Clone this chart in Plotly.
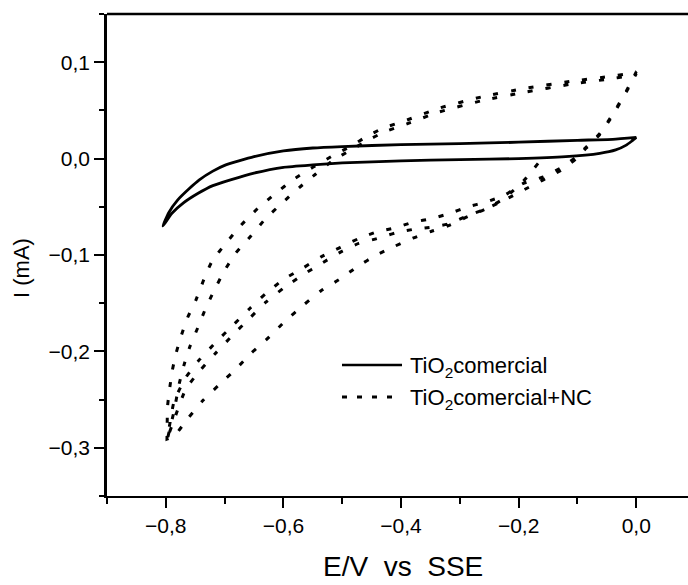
import plotly.graph_objects as go

# ---- TiO2 comercial: one cyclic voltammogram (forward and reverse sweeps) ----
solid_fwd_E = [-0.805, -0.795, -0.780, -0.760, -0.743, -0.720, -0.700, -0.650, -0.600,
               -0.550, -0.500, -0.400, -0.300, -0.200, -0.100, -0.040, 0.000]
solid_fwd_I = [-0.070, -0.056, -0.043, -0.031, -0.022, -0.013, -0.007, 0.002, 0.008,
               0.011, 0.0125, 0.0145, 0.0155, 0.017, 0.019, 0.020, 0.022]
solid_rev_E = [0.000, -0.008, -0.017, -0.035, -0.062, -0.120, -0.200, -0.300, -0.400,
               -0.500, -0.550, -0.600, -0.650, -0.690, -0.720, -0.745, -0.770, -0.790, -0.805]
solid_rev_I = [0.022, 0.018, 0.014, 0.009, 0.0055, 0.002, 0.000, -0.001, -0.0023,
               -0.0045, -0.0065, -0.009, -0.015, -0.022, -0.028, -0.036, -0.046, -0.057, -0.070]

# ---- TiO2 comercial+NC: consecutive sweeps ----
nc_scan1_E = [-0.167, -0.190, -0.224, -0.255, -0.286, -0.317, -0.349, -0.380, -0.411, -0.442,
              -0.474, -0.504, -0.536, -0.566, -0.596, -0.624, -0.655, -0.682, -0.710, -0.737,
              -0.763, -0.786, -0.798]
nc_scan1_I = [-0.005, -0.022, -0.041, -0.052, -0.060, -0.069, -0.0756, -0.0826, -0.091, -0.100,
              -0.112, -0.125, -0.137, -0.152, -0.168, -0.185, -0.202, -0.219, -0.235, -0.251,
              -0.270, -0.288, -0.291]
nc_scan2_E = [-0.798, -0.797, -0.794, -0.789, -0.783, -0.775, -0.763, -0.749, -0.735, -0.721,
              -0.698, -0.672, -0.644, -0.613, -0.584, -0.550, -0.516, -0.485, -0.459, -0.431,
              -0.390, -0.337, -0.263, -0.188, -0.113, -0.053, -0.008, 0.000]
nc_scan2_I = [-0.291, -0.257, -0.241, -0.220, -0.203, -0.186, -0.165, -0.147, -0.125, -0.106,
              -0.088, -0.069, -0.052, -0.036, -0.022, -0.009, 0.003, 0.013, 0.0227, 0.0315,
              0.040, 0.052, 0.064, 0.073, 0.080, 0.0846, 0.0887, 0.090]
nc_scan3_E = [0.000, -0.017, -0.039, -0.062, -0.085, -0.102, -0.125, -0.158, -0.193, -0.224,
              -0.255, -0.286, -0.318, -0.346, -0.380, -0.409, -0.441, -0.472, -0.503, -0.536,
              -0.568, -0.599, -0.630, -0.658, -0.686, -0.714, -0.742, -0.766, -0.786, -0.797]
nc_scan3_I = [0.090, 0.070, 0.047, 0.026, 0.012, 0.002, -0.0085, -0.019, -0.026, -0.038,
              -0.045, -0.050, -0.057, -0.062, -0.066, -0.0717, -0.076, -0.083, -0.092, -0.102,
              -0.114, -0.125, -0.140, -0.156, -0.173, -0.190, -0.208, -0.227, -0.252, -0.290]
nc_scan4_E = [-0.797, -0.786, -0.777, -0.769, -0.759, -0.746, -0.732, -0.718, -0.700, -0.681,
              -0.655, -0.630, -0.602, -0.573, -0.545, -0.516, -0.485, -0.459, -0.431, -0.390,
              -0.337, -0.263, -0.188, -0.113, -0.053, -0.010, 0.000]
nc_scan4_I = [-0.290, -0.262, -0.233, -0.214, -0.195, -0.176, -0.155, -0.137, -0.116, -0.098,
              -0.080, -0.062, -0.046, -0.030, -0.016, -0.002, 0.009, 0.018, 0.027, 0.036,
              0.048, 0.060, 0.069, 0.077, 0.082, 0.086, 0.088]
nc_scan5_E = [0.000, -0.017, -0.039, -0.062, -0.085, -0.102, -0.125, -0.158, -0.193, -0.224,
              -0.255, -0.286, -0.318, -0.346, -0.380, -0.409, -0.441, -0.472, -0.503, -0.536,
              -0.568, -0.599, -0.630, -0.658, -0.686, -0.714, -0.742, -0.766, -0.786, -0.798]
nc_scan5_I = [0.088, 0.069, 0.046, 0.025, 0.011, 0.000, -0.011, -0.022, -0.033, -0.043,
              -0.052, -0.059, -0.0675, -0.071, -0.0735, -0.077, -0.083, -0.088, -0.097, -0.109,
              -0.121, -0.134, -0.149, -0.166, -0.183, -0.201, -0.220, -0.239, -0.271, -0.291]

series_names = ["TiO<sub>2</sub>comercial", "TiO<sub>2</sub>comercial+NC"]
x_title = "E/V  vs  SSE"
y_title = "I (mA)"

FONT = "Liberation Sans, Arial, sans-serif"
W, H = 688, 585
ML, MR, MT, MB = 107, 0, 14, 89
PW, PH = W - ML - MR, H - MT - MB


def px(xp):
    return (xp - ML) / PW


def py(yp):
    return (H - MB - yp) / PH


solid_E = solid_fwd_E + solid_rev_E
solid_I = solid_fwd_I + solid_rev_I
nc_E = nc_scan1_E + nc_scan2_E + nc_scan3_E + nc_scan4_E + nc_scan5_E
nc_I = nc_scan1_I + nc_scan2_I + nc_scan3_I + nc_scan4_I + nc_scan5_I

fig = go.Figure()
fig.add_trace(go.Scatter(x=solid_E, y=solid_I, mode="lines", name=series_names[0],
                         line=dict(color="black", width=2.8, shape="spline", smoothing=0.5),
                         showlegend=False))
fig.add_trace(go.Scatter(x=nc_E, y=nc_I, mode="lines", name=series_names[1],
                         line=dict(color="black", width=3, dash="5px,13px",
                                   shape="spline", smoothing=0.5),
                         showlegend=False))

tickfont = dict(family=FONT, size=21, color="black")
fig.update_xaxes(range=[-0.9, 0.088], showline=True, linecolor="black", linewidth=2,
                 ticks="outside", ticklen=10, tickwidth=2, tickcolor="black",
                 tick0=0, dtick=0.2, tickformat=".1f", tickfont=tickfont,
                 showgrid=False, zeroline=False,
                 minor=dict(ticks="outside", ticklen=6, tickwidth=2, tickcolor="black",
                            tick0=-0.9, dtick=0.1))
fig.update_yaxes(range=[-0.35, 0.15], showline=True, linecolor="black", linewidth=2.5,
                 ticks="outside", ticklen=10, tickwidth=2, tickcolor="black",
                 tick0=0, dtick=0.1, tickformat=".1f", tickfont=tickfont,
                 showgrid=False, zeroline=False,
                 minor=dict(ticks="outside", ticklen=5, tickwidth=2, tickcolor="black",
                            tick0=0, dtick=0.05))

shapes = [
    # top frame line
    dict(type="line", xref="paper", yref="paper", x0=0, x1=1, y0=1, y1=1,
         line=dict(color="black", width=2.5)),
    # legend samples
    dict(type="line", xref="paper", yref="paper", x0=px(342), x1=px(402), y0=py(365), y1=py(365),
         line=dict(color="black", width=2.5)),
    dict(type="line", xref="paper", yref="paper", x0=px(342), x1=px(402), y0=py(397), y1=py(397),
         line=dict(color="black", width=3, dash="5px,10px")),
]

legfont = dict(family=FONT, size=22, color="black")
annotations = [
    dict(text=series_names[0], xref="paper", yref="paper", x=px(408), y=py(367),
         xanchor="left", yanchor="middle", showarrow=False, font=legfont),
    dict(text=series_names[1], xref="paper", yref="paper", x=px(408), y=py(399),
         xanchor="left", yanchor="middle", showarrow=False, font=legfont),
    dict(text=x_title, xref="paper", yref="paper", x=px(403), y=py(566),
         xanchor="center", yanchor="middle", showarrow=False,
         font=dict(family=FONT, size=28, color="black")),
    dict(text=y_title, xref="paper", yref="paper", x=px(21), y=py(268),
         xanchor="center", yanchor="middle", textangle=-90, showarrow=False,
         font=dict(family=FONT, size=22, color="black")),
]

fig.update_layout(width=W, height=H, margin=dict(l=ML, r=MR, t=MT, b=MB),
                  paper_bgcolor="white", plot_bgcolor="white", separators=",.",
                  shapes=shapes, annotations=annotations, showlegend=False)

fig.write_html("out.html")
